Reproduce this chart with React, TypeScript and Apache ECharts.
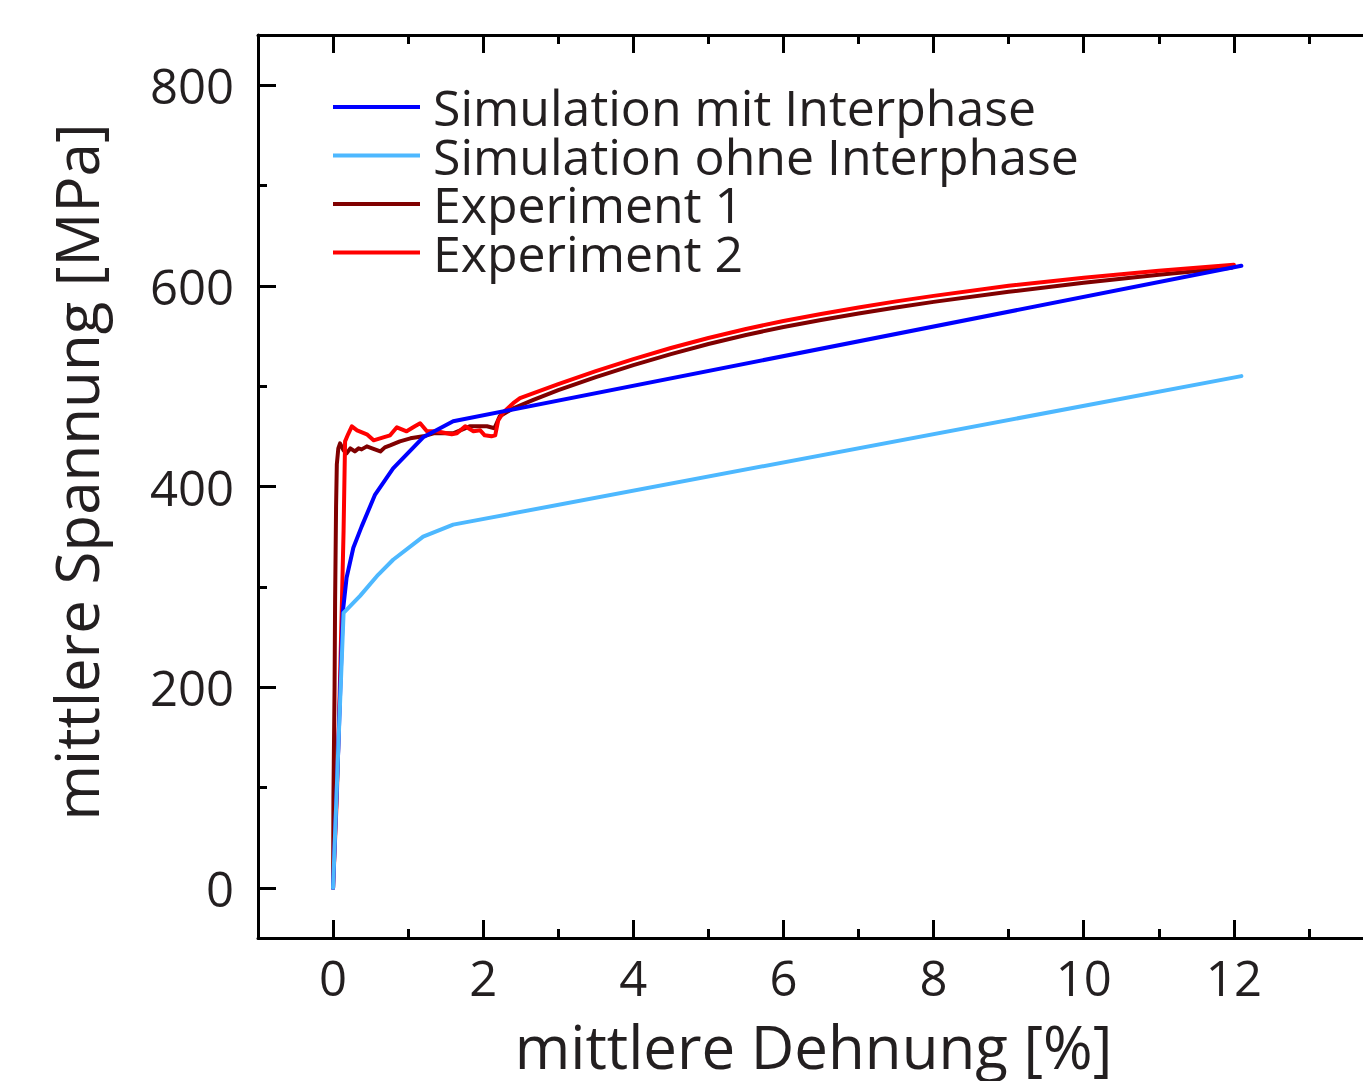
import React, { useEffect, useRef } from "react";
import * as echarts from "echarts";

// Simulation mit Interphase
const simMitX = [0, 0.07, 0.13, 0.18, 0.27, 0.38, 0.56, 0.8, 1.2, 1.6, 12.1];
const simMitY = [0, 140, 275, 309, 339, 360, 392, 418, 449, 465, 620];

// Simulation ohne Interphase
const simOhneX = [0, 0.07, 0.14, 0.36, 0.6, 0.8, 1.2, 1.6, 12.1];
const simOhneY = [0, 140, 274, 291, 312, 327, 350, 362, 510];

// Experiment 1
const exp1X = [0, 0.005, 0.02, 0.027, 0.04, 0.05, 0.07, 0.093, 0.14, 0.18, 0.23, 0.29, 0.34, 0.38, 0.45, 0.52, 0.63, 0.69, 0.76, 0.89, 1.03, 1.2, 1.34, 1.6, 1.82, 2.05, 2.15, 2.22, 2.4, 2.66, 3, 3.5, 4, 4.5, 5, 5.5, 6, 6.5, 7, 7.5, 8, 9, 10, 11, 11.97];
const exp1Y = [0, 90, 200, 285, 380, 422, 438, 443, 436, 433, 438, 435, 438, 437, 440, 438, 435, 439, 441, 445, 448, 450, 453, 453, 460, 460, 458, 470, 478, 486, 496, 509, 521, 532, 542, 551, 559, 566, 572.5, 578.5, 584, 594, 603, 611, 618];

// Experiment 2
const exp2X = [0, 0.05, 0.09, 0.115, 0.14, 0.16, 0.2, 0.25, 0.32, 0.45, 0.54, 0.67, 0.76, 0.85, 0.98, 1.09, 1.16, 1.25, 1.38, 1.58, 1.65, 1.76, 1.87, 1.96, 2.02, 2.11, 2.16, 2.2, 2.27, 2.4, 2.49, 3, 3.5, 4, 4.5, 5, 5.5, 6, 6.5, 7, 7.5, 8, 9, 10, 11, 12];
const exp2Y = [0, 90, 200, 276, 356, 445, 452, 460, 456, 452, 446, 449, 451, 459, 455, 460, 463, 455, 455, 452, 453, 460, 455, 456, 451, 450, 451, 466, 474, 483, 488, 502, 515, 527, 538, 548, 557, 565, 572, 578.5, 584.5, 590, 600, 608, 615, 621];

const seriesNames = ["Simulation mit Interphase", "Simulation ohne Interphase", "Experiment 1", "Experiment 2"];
const seriesColors = ["#0000ff", "#4db8ff", "#800000", "#ff0000"];

const xMajor = [0, 2, 4, 6, 8, 10, 12];
const xMinor = [1, 3, 5, 7, 9, 11, 13];
const yMajor = [0, 200, 400, 600, 800];
const yMinor = [100, 300, 500, 700];

const X_MIN = -1;
const X_MAX = 13.8;
const Y_MIN = -50;
const Y_MAX = 850;

const FONT = "'Open Sans', sans-serif";
const TEXT = "#231f20";

const zip = (xs: number[], ys: number[]) => xs.map((x, i) => [x, ys[i]]);

export default function App() {
  const ref = useRef<HTMLDivElement>(null);
  useEffect(() => {
    if (!ref.current) return;
    const chart = echarts.init(ref.current, null, { renderer: "svg" });

    const axisLine = { show: true, onZero: false, lineStyle: { color: "#000", width: 3 } };
    const mkX = (position: string, ticks: number[], len: number, labels: boolean, line: boolean) => ({
      type: "value",
      position,
      min: X_MIN,
      max: X_MAX,
      axisLine: { ...axisLine, show: line },
      axisTick: { show: true, inside: true, length: len, customValues: ticks, lineStyle: { color: "#000", width: 3 } },
      axisLabel: labels
        ? { show: true, customValues: ticks, margin: 14, fontSize: 49, fontFamily: FONT, color: TEXT }
        : { show: false },
      splitLine: { show: false },
    });
    const mkY = (ticks: number[], len: number, labels: boolean, line: boolean) => ({
      type: "value",
      position: "left",
      min: Y_MIN,
      max: Y_MAX,
      axisLine: { ...axisLine, show: line },
      axisTick: { show: true, inside: true, length: len, customValues: ticks, lineStyle: { color: "#000", width: 3 } },
      axisLabel: labels
        ? { show: true, customValues: ticks, margin: 24, fontSize: 49, fontFamily: FONT, color: TEXT }
        : { show: false },
      splitLine: { show: false },
    });

    const xAxes: any[] = [
      mkX("bottom", xMajor, 18, true, true),
      mkX("bottom", xMinor, 9, false, false),
      mkX("top", xMajor, 18, false, true),
      mkX("top", xMinor, 9, false, false),
    ];
    xAxes[0].name = "mittlere Dehnung [%]";
    xAxes[0].nameLocation = "middle";
    xAxes[0].nameGap = 80;
    xAxes[0].nameTextStyle = { fontSize: 60, fontFamily: FONT, color: TEXT, lineHeight: 56 };

    const data = [zip(simMitX, simMitY), zip(simOhneX, simOhneY), zip(exp1X, exp1Y), zip(exp2X, exp2Y)];
    const drawOrder = [2, 3, 0, 1];

    const option: any = {
      animation: false,
      backgroundColor: "#fff",
      grid: { left: 258, top: 35, right: 6, bottom: 139, containLabel: false },
      xAxis: xAxes,
      yAxis: [mkY(yMajor, 18, true, true), mkY(yMinor, 9, false, false)],
      legend: {
        show: true,
        orient: "vertical",
        left: 333,
        top: 82,
        padding: 0,
        itemGap: -1.5,
        itemWidth: 87,
        itemHeight: 4,
        icon: "rect",
        data: seriesNames,
        textStyle: { fontSize: 50, fontFamily: FONT, color: TEXT, lineHeight: 48.5, padding: [0, 0, 0, 8] },
      },
      graphic: [
        {
          type: "text",
          x: 76,
          y: 472,
          rotation: Math.PI / 2,
          style: {
            text: "mittlere Spannung [MPa]",
            fontSize: 60,
            fontFamily: FONT,
            fill: TEXT,
            textAlign: "center",
            textVerticalAlign: "middle",
          },
        },
      ],
      series: drawOrder.map((i) => ({
        name: seriesNames[i],
        type: "line",
        xAxisIndex: 0,
        yAxisIndex: 0,
        data: data[i],
        showSymbol: false,
        symbol: "none",
        color: seriesColors[i],
        lineStyle: { color: seriesColors[i], width: 4, cap: "round", join: "round" },
      })),
    };
    chart.setOption(option);
    return () => chart.dispose();
  }, []);

  return (
    <div style={{ position: "absolute", left: 0, top: 0, width: 1363, height: 1081, overflow: "hidden", background: "#fff" }}>
      <div ref={ref} style={{ width: 1375, height: 1081 }} />
    </div>
  );
}
